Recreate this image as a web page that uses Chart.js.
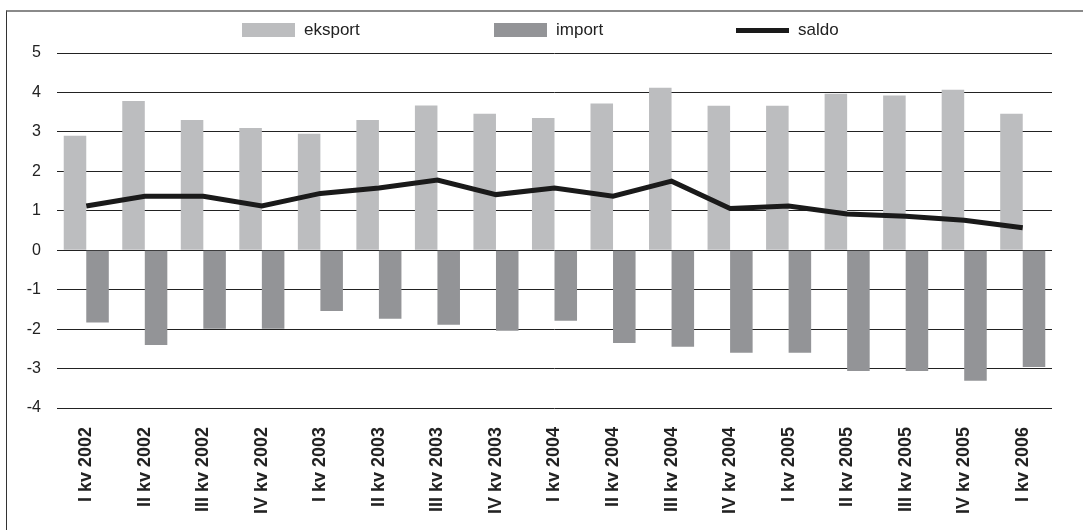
<!DOCTYPE html>
<html>
<head>
<meta charset="utf-8">
<script src="https://cdn.jsdelivr.net/npm/chart.js@4/dist/chart.umd.min.js"></script>
<style>
  html, body { margin: 0; padding: 0; background: #fff; overflow: hidden; }
  #wrap { position: absolute; left: 0; top: 0; width: 1083px; height: 530px; }
  #frame { position: absolute; left: 6px; top: 10px; width: 1200px; height: 600px;
           border-top: 2px solid #8a8a8a; border-left: 1px solid #333; }
  .lg { position: absolute; top: 20px; height: 20px; display: flex; align-items: center;
        font: 17px Arial, "Liberation Sans", sans-serif; color: #222; white-space: nowrap; }
  .lg span.sw { display: inline-block; width: 53px; margin-right: 9px; }
</style>
</head>
<body>
<div id="frame"></div>
<div id="wrap"><canvas id="myChart" width="1083" height="530"></canvas></div>
<script>
const labels = ["I kv 2002", "II kv 2002", "III kv 2002", "IV kv 2002", "I kv 2003", "II kv 2003", "III kv 2003", "IV kv 2003",
    "I kv 2004", "II kv 2004", "III kv 2004", "IV kv 2004", "I kv 2005", "II kv 2005", "III kv 2005", "IV kv 2005", "I kv 2006"];
const eksport = [2.9, 3.78, 3.3, 3.1, 2.95, 3.3, 3.67, 3.46, 3.35, 3.72, 4.12, 3.66, 3.66, 3.97, 3.92, 4.07, 3.46];
const importVals = [-1.83, -2.4, -1.99, -1.99, -1.54, -1.74, -1.89, -2.04, -1.79, -2.35, -2.45, -2.6, -2.6, -3.06, -3.06, -3.31, -2.96];
const saldo = [1.12, 1.37, 1.37, 1.12, 1.44, 1.58, 1.78, 1.41, 1.58, 1.37, 1.75, 1.06, 1.12, 0.92, 0.86, 0.76, 0.57];
const yTicks = [-4, -3, -2, -1, 0, 1, 2, 3, 4, 5];

const txt = '#222';
const fam = 'Arial, "Liberation Sans", sans-serif';

var ctx = document.getElementById('myChart').getContext('2d');
var chart = new Chart(ctx, {
    type: 'bar',
    data: {
        labels: labels,
        datasets: [{
            label: 'eksport',
            data: eksport,
            backgroundColor: '#bcbdbf',
            categoryPercentage: 0.77,
            barPercentage: 1.0,
            order: 1
        }, {
            label: 'import',
            data: importVals,
            backgroundColor: '#939497',
            categoryPercentage: 0.77,
            barPercentage: 1.0,
            order: 1
        }, {
            type: 'line',
            label: 'saldo',
            data: saldo,
            borderColor: '#1a1a1a',
            backgroundColor: '#1a1a1a',
            borderWidth: 5,
            pointRadius: 0,
            tension: 0,
            fill: false,
            order: 0
        }]
    },
    options: {
        responsive: false,
        animation: false,
        layout: { padding: { left: 6, right: 31, top: 53, bottom: 0 } },
        plugins: {
            tooltip: { enabled: false },
            legend: { display: false }
        },
        scales: {
            x: {
                grid: { display: false, drawTicks: false },
                border: { display: false },
                ticks: {
                    color: txt,
                    font: { family: fam, size: 18, weight: 'bold' },
                    maxRotation: 90,
                    minRotation: 90,
                    padding: 19,
                    autoSkip: false
                },
                afterFit(scale) { scale.height = 122; }
            },
            y: {
                min: -4,
                max: 5,
                afterBuildTicks(scale) { scale.ticks = yTicks.map((v) => ({ value: v })); },
                grid: { color: '#222', lineWidth: 1, drawTicks: false },
                border: { display: false },
                ticks: {
                    color: txt,
                    font: { family: fam, size: 16 },
                    padding: 16
                },
                afterFit(scale) { scale.width = 51; }
            }
        }
    }
});

// legend as html, built from the datasets
const legendLeft = [242, 494, 736];
chart.data.datasets.forEach((ds, i) => {
    const item = document.createElement('div');
    item.className = 'lg';
    item.style.left = legendLeft[i] + 'px';
    const sw = document.createElement('span');
    sw.className = 'sw';
    if (ds.type === 'line') {
        sw.style.height = '5px';
        sw.style.background = ds.borderColor;
    } else {
        sw.style.height = '14px';
        sw.style.background = ds.backgroundColor;
    }
    item.appendChild(sw);
    item.appendChild(document.createTextNode(ds.label));
    document.body.appendChild(item);
});
</script>
</body>
</html>
